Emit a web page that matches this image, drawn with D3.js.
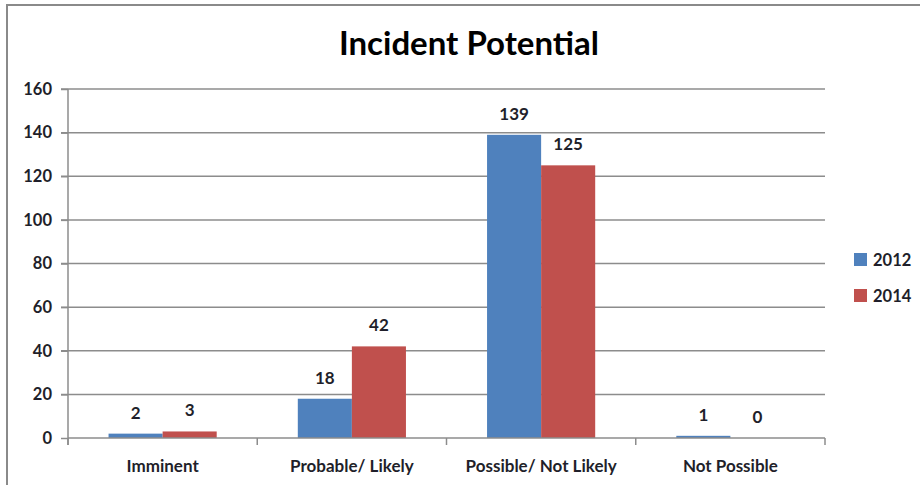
<!DOCTYPE html>
<html><head><meta charset="utf-8">
<script src="https://cdn.jsdelivr.net/npm/d3@7"></script>
<style>body{margin:0;background:#fff;} svg{display:block;font-family:Lato,"Open Sans",sans-serif;}</style>
</head><body><svg id="c" width="920" height="485"></svg>
<script>
const categories = ["Imminent", "Probable/ Likely", "Possible/ Not Likely", "Not Possible"];
const seriesNames = ["2012", "2014"];
const values2012 = [2, 18, 139, 1];
const values2014 = [3, 42, 125, 0];
const yTicks = [0, 20, 40, 60, 80, 100, 120, 140, 160];
const colors = ["#4F81BD", "#C0504D"];
const title = "Incident Potential";

(function () {
const svg = d3.select("#c");
const txt = "#1f1f2a";
// chart border
svg.append("rect").attr("x", 7).attr("y", 5).attr("width", 915).attr("height", 490)
  .attr("fill", "none").attr("stroke", "#8a8a8a").attr("stroke-width", 2);

const pL = 68, pR = 825, pT = 89, pB = 438;
const x0 = d3.scaleBand().domain(categories).range([pL, pR]).padding(0);
const x1 = d3.scaleBand().domain(seriesNames).range([0, x0.bandwidth()]).paddingInner(0).paddingOuter(0.75);
const y = d3.scaleLinear().domain([0, 160]).range([pB, pT]);

svg.append("text").attr("x", 469).attr("y", 55).attr("text-anchor", "middle")
  .attr("font-size", 33).attr("font-weight", "bold").attr("fill", "#000").text(title);

// gridlines
svg.append("g").selectAll("line").data(yTicks.filter(d => d > 0)).join("line")
  .attr("x1", pL - 7).attr("x2", pR).attr("y1", d => y(d)).attr("y2", d => y(d))
  .attr("stroke", "#8c8c8c").attr("stroke-width", 1.5);

// y axis
const yAxis = svg.append("g").attr("transform", `translate(${pL},0)`)
  .call(d3.axisLeft(y).tickValues(yTicks).tickSize(7).tickPadding(9));
yAxis.select(".domain").attr("stroke", "#8c8c8c").attr("stroke-width", 1.5).attr("d", `M0,${pT}V${pB + 7}`);
yAxis.selectAll(".tick line").attr("stroke", "#8c8c8c").attr("stroke-width", 1.5);
yAxis.selectAll(".tick text").attr("font-size", 16.5).attr("font-weight", "bold").attr("fill", txt)
  .attr("font-family", "Lato, sans-serif");

// bars
const data = categories.map((c, i) => ({ c, vals: [values2012[i], values2014[i]] }));
const groups = svg.append("g").selectAll("g").data(data).join("g")
  .attr("transform", d => `translate(${x0(d.c)},0)`);
groups.selectAll("rect").data(d => d.vals.map((v, j) => ({ s: seriesNames[j], v, j }))).join("rect")
  .attr("x", d => x1(d.s)).attr("width", x1.bandwidth())
  .attr("y", d => y(d.v)).attr("height", d => pB - y(d.v))
  .attr("fill", d => colors[d.j]);
groups.selectAll("text").data(d => d.vals.map((v, j) => ({ s: seriesNames[j], v, j }))).join("text")
  .attr("x", d => x1(d.s) + x1.bandwidth() / 2).attr("y", d => y(d.v) - 15)
  .attr("text-anchor", "middle").attr("font-size", 17).attr("font-weight", "bold").attr("fill", txt)
  .text(d => d.v);

// x axis
const xAxis = svg.append("g").attr("transform", `translate(0,${pB})`)
  .call(d3.axisBottom(x0).tickSize(0));
xAxis.select(".domain").remove();
xAxis.append("line").attr("x1", pL).attr("x2", pR).attr("stroke", "#8c8c8c").attr("stroke-width", 1.5);
xAxis.selectAll(".sep").data(d3.range(categories.length + 1)).join("line").attr("class", "sep")
  .attr("x1", i => pL + i * x0.step()).attr("x2", i => pL + i * x0.step())
  .attr("y1", 0).attr("y2", 7).attr("stroke", "#8c8c8c").attr("stroke-width", 1.5);
xAxis.selectAll(".tick text").attr("y", 34).attr("dy", 0).attr("font-size", 17).attr("font-weight", "bold")
  .attr("fill", txt).attr("font-family", "Lato, sans-serif");

// legend
const lg = svg.append("g").selectAll("g").data(seriesNames).join("g")
  .attr("transform", (d, i) => `translate(854,${253 + i * 36})`);
lg.append("rect").attr("width", 13).attr("height", 13).attr("fill", (d, i) => colors[i]);
lg.append("text").attr("x", 19).attr("y", 13).attr("font-size", 16.5).attr("font-weight", "bold")
  .attr("fill", txt).text(d => d);
})();
</script></body></html>
